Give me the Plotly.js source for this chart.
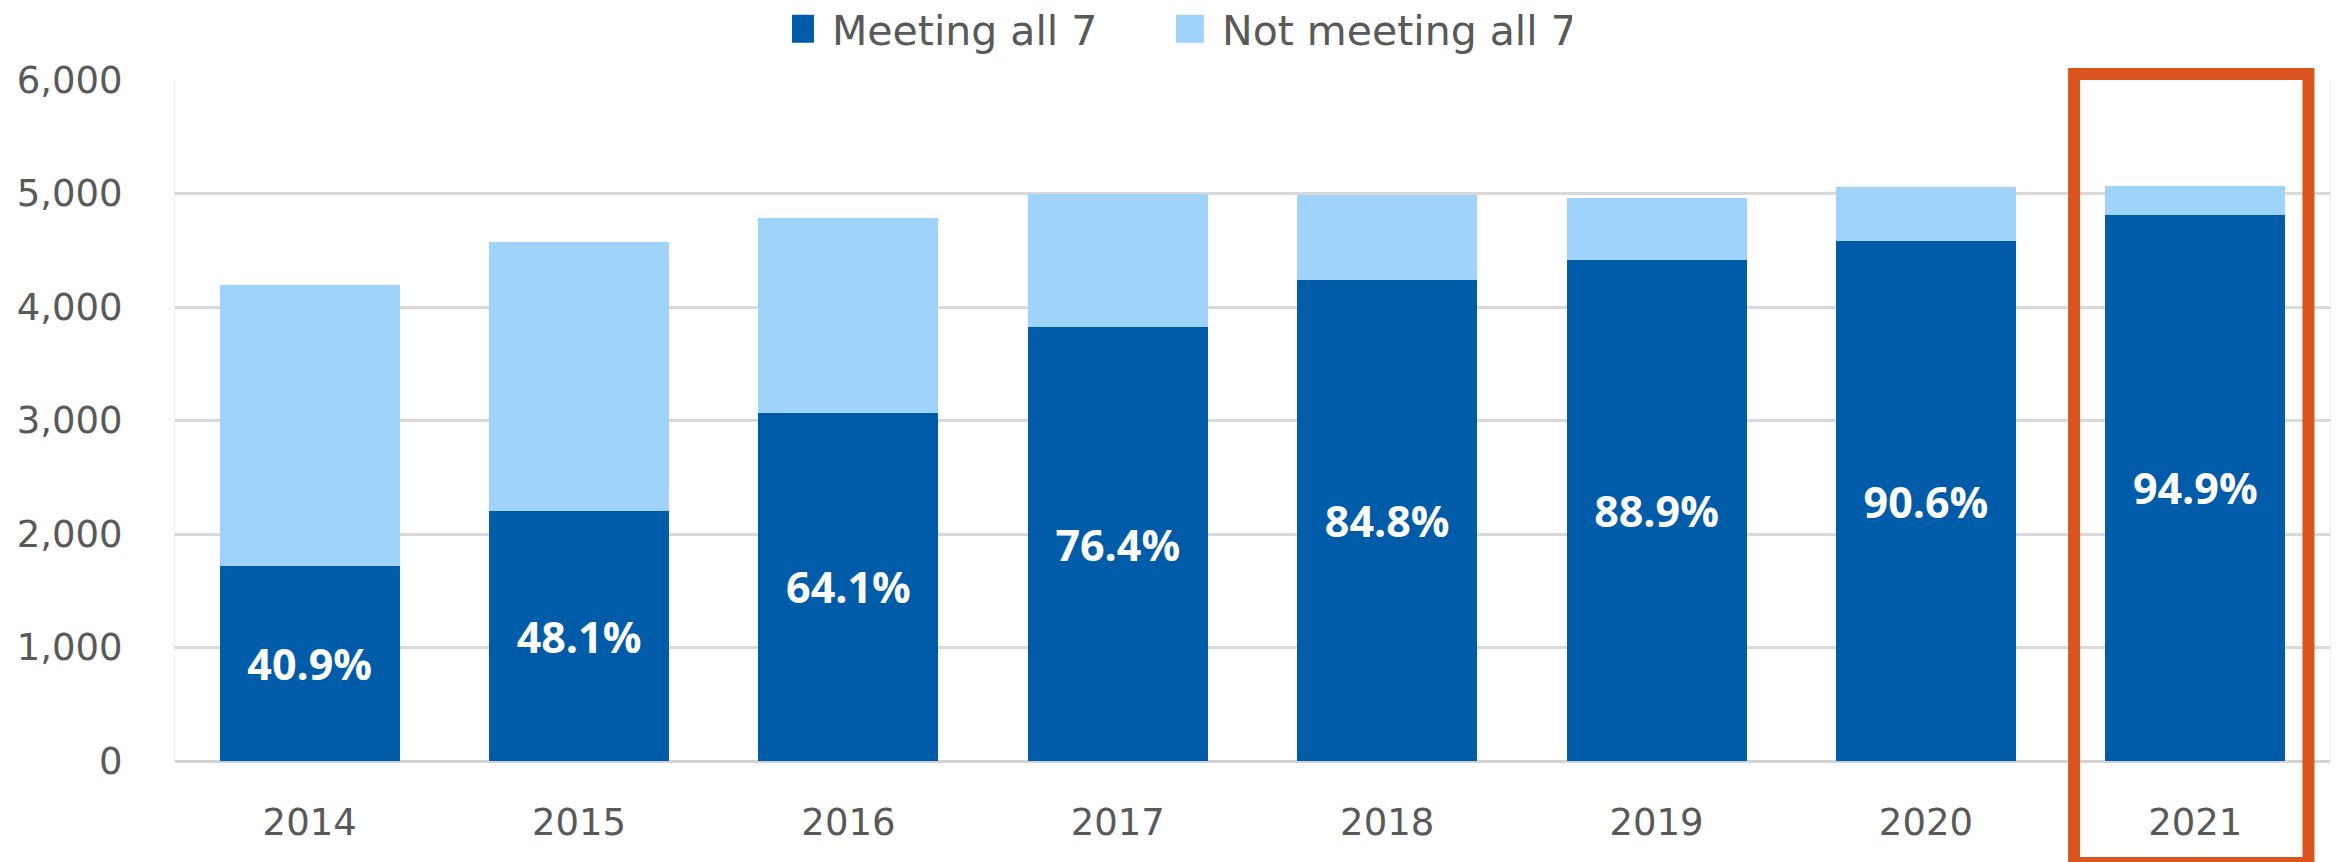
<!DOCTYPE html>
<html>
<head>
<meta charset="utf-8">
<script src="https://cdn.plot.ly/plotly-3.0.1.min.js"></script>
<style>
html, body { margin: 0; padding: 0; background: #ffffff; }
#chart { width: 2341px; height: 862px; }
</style>
</head>
<body>
<div id="chart"></div>
<script>
// ---- data ----
const years = ['2014', '2015', '2016', '2017', '2018', '2019', '2020', '2021'];
const meetingAll7 = [1714, 2200, 3068, 3822, 4236, 4418, 4580, 4813];
const notMeetingAll7 = [2476, 2375, 1719, 1173, 754, 542, 475, 257];
const pctLabels = ['40.9%', '48.1%', '64.1%', '76.4%', '84.8%', '88.9%', '90.6%', '94.9%'];
const seriesNames = ['Meeting all 7', 'Not meeting all 7'];
const yTicks = [0, 1000, 2000, 3000, 4000, 5000, 6000];
const highlightYear = '2021';

// ---- styling ----
const DARK = '#005CA9';
const LIGHT = '#A0D3FC';
const TEXT = '#595959';
const GRID = '#D9D9D9';
const BOX = '#D9541E';

const traces = [
  {
    type: 'bar', name: seriesNames[0], x: years, y: meetingAll7,
    marker: { color: DARK, line: { width: 0 } },
    text: pctLabels, textposition: 'inside', insidetextanchor: 'middle',
    textfont: { family: 'Open Sans', size: 43, color: '#FFFFFF', weight: 'bold' },
    cliponaxis: false, hoverinfo: 'x+y+name'
  },
  {
    type: 'bar', name: seriesNames[1], x: years, y: notMeetingAll7,
    marker: { color: LIGHT, line: { width: 0 } },
    hoverinfo: 'x+y+name'
  }
];

const hiIdx = years.indexOf(highlightYear);
const nCat = years.length;
const boxX0 = (hiIdx + 0.5 - 0.45) / nCat;
const boxX1 = (hiIdx + 0.5 + 0.42) / nCat;

const layout = {
  width: 2341, height: 862,
  paper_bgcolor: '#FFFFFF', plot_bgcolor: '#FFFFFF',
  margin: { l: 175, r: 11, t: 80, b: 101, pad: 0 },
  barmode: 'stack',
  bargap: 0.332,
  font: { family: 'DejaVu Sans', color: TEXT, size: 37 },
  showlegend: true,
  legend: {
    orientation: 'h', xref: 'paper', yref: 'container',
    x: 0.2863, xanchor: 'left', y: 1 - 29 / 862, yanchor: 'middle',
    font: { family: 'DejaVu Sans', size: 41, color: TEXT },
    entrywidth: 345, traceorder: 'normal',
    bgcolor: 'rgba(0,0,0,0)', borderwidth: 0
  },
  xaxis: {
    type: 'category', tickfont: { size: 37, color: TEXT },
    showgrid: false, zeroline: false, showline: false,
    ticks: '', ticklabelstandoff: 36
  },
  yaxis: {
    range: [0, 6000], tickvals: yTicks, tickformat: ',d',
    tickfont: { size: 37, color: TEXT },
    showgrid: true, gridcolor: GRID, gridwidth: 3,
    zeroline: true, zerolinecolor: '#D3D3D3', zerolinewidth: 3,
    showline: true, mirror: true, linecolor: '#EDEDED', linewidth: 1,
    ticks: '', ticklabelstandoff: 44
  },
  shapes: [
    {
      type: 'rect', xref: 'paper', yref: 'paper',
      x0: boxX0, x1: boxX1, y0: -0.1498, y1: 1.0088,
      line: { color: BOX, width: 12 }, fillcolor: 'rgba(0,0,0,0)', layer: 'above'
    }
  ]
};

Plotly.newPlot('chart', traces, layout, { staticPlot: true, displayModeBar: false }).then(function (gd) {
  // enlarge legend swatches to match the reference's big square keys
  gd.querySelectorAll('.legend .legendpoints path').forEach(function (p) {
    p.setAttribute('d', 'M2,14H-26V-14H2Z');
  });
});
</script>
</body>
</html>
